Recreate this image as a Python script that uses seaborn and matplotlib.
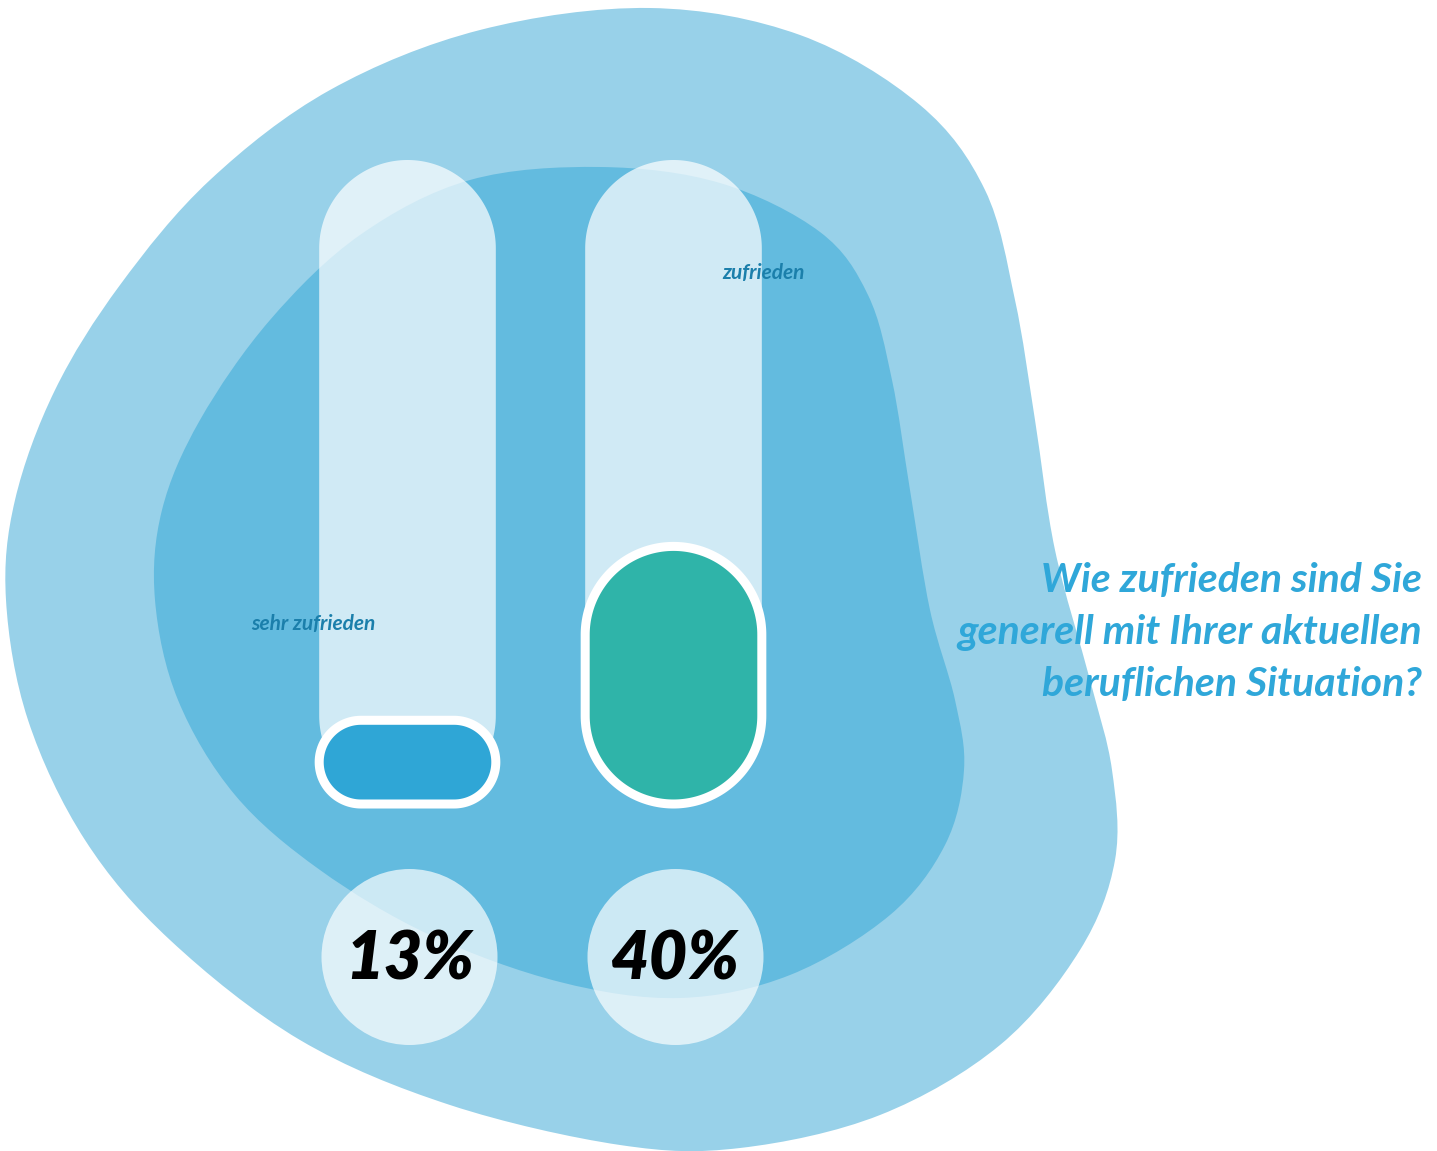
import numpy as np
import matplotlib
matplotlib.use("Agg")
import matplotlib.pyplot as plt
import matplotlib.transforms as mtransforms
import seaborn as sns
from matplotlib.path import Path
from matplotlib.patches import PathPatch, Circle

# ---- data -------------------------------------------------------------
categories = ["sehr zufrieden", "zufrieden"]
shares = [13, 40]                      # percent of respondents
share_labels = ["13%", "40%"]
track_full = [100, 100]
fill_colors = ["#2fa6d6", "#2fb4a9"]
question = "Wie zufrieden sind Sie\ngenerell mit Ihrer aktuellen\nberuflichen Situation?"

# ---- canvas -----------------------------------------------------------
W, H, DPI = 1437, 1151, 100
sns.set_theme(style="white")
plt.rcParams["font.family"] = ["Lato", "DejaVu Sans"]

fig = plt.figure(figsize=(W / DPI, H / DPI), dpi=DPI, facecolor="white")
bg = fig.add_axes([0, 0, 1, 1])
bg.set_xlim(0, W)
bg.set_ylim(H, 0)
bg.axis("off")


def smooth_closed(points):
    """Closed Catmull-Rom outline turned into cubic Bezier segments."""
    pts = np.asarray(points, float)
    n = len(pts)
    verts = [tuple(pts[0])]
    codes = [Path.MOVETO]
    for i in range(n):
        p0, p1, p2, p3 = pts[i - 1], pts[i], pts[(i + 1) % n], pts[(i + 2) % n]
        c1 = p1 + (p2 - p0) / 6.0
        c2 = p2 - (p3 - p1) / 6.0
        verts += [tuple(c1), tuple(c2), tuple(p2)]
        codes += [Path.CURVE4] * 3
    return Path(verts, codes)


outer_blob = [
    (650, 8), (480, 30), (330, 90), (210, 180), (120, 285), (55, 390),
    (15, 500), (6, 600), (28, 720), (85, 840), (170, 940), (300, 1040),
    (450, 1105), (620, 1145), (740, 1148), (880, 1115), (1000, 1045),
    (1080, 950), (1115, 860), (1112, 770), (1090, 680), (1055, 550),
    (1035, 420), (1015, 300), (985, 190), (920, 105), (800, 35),
]
inner_blob = [
    (600, 167), (470, 180), (360, 235), (270, 320), (200, 420), (162, 510),
    (155, 600), (178, 700), (235, 795), (320, 870), (430, 935), (560, 982),
    (680, 998), (790, 975), (890, 915), (945, 845), (964, 770), (955, 700),
    (930, 610), (910, 490), (892, 380), (868, 295), (820, 232), (720, 183),
]
bg.add_patch(PathPatch(smooth_closed(outer_blob), facecolor="#98d1e9", edgecolor="none"))
bg.add_patch(PathPatch(smooth_closed(inner_blob), facecolor="#63bbdf", edgecolor="none"))

bg.text(1422, 632, question, ha="right", va="center", multialignment="right",
        fontsize=29.5, fontstyle="italic", fontweight="bold", color="#2fa7d9",
        linespacing=1.5)

# ---- bar axes: 0..100 % mapped onto the tracks --------------------------
px_left, px_right = 274.5, 806.5
px_top, px_bottom = 160, 804
ax = fig.add_axes([px_left / W, 1 - px_bottom / H,
                   (px_right - px_left) / W, (px_bottom - px_top) / H])
ax.patch.set_alpha(0)

bar_w = 0.664
sns.barplot(x=categories, y=track_full, ax=ax, width=bar_w, color="white")
n_track = len(ax.patches)
sns.barplot(x=categories, y=shares, ax=ax, width=bar_w, color="white")
ax.set_xlim(-0.5, 1.5)
ax.set_ylim(0, 100)
ax.axis("off")

ident = mtransforms.IdentityTransform()


def capsule_path(x0, y0, w, h, n=60):
    """Stadium outline: semicircular ends on the shorter side."""
    r = min(w, h) / 2.0
    x1, y1 = x0 + w, y0 + h
    centers = [(x1 - r, y0 + r), (x1 - r, y1 - r), (x0 + r, y1 - r), (x0 + r, y0 + r)]
    starts = [-90, 0, 90, 180]
    pts = []
    for (cx, cy), a0 in zip(centers, starts):
        t = np.radians(np.linspace(a0, a0 + 90, n))
        pts.extend(zip(cx + r * np.cos(t), cy + r * np.sin(t)))
    pts.append(pts[0])
    codes = [Path.MOVETO] + [Path.LINETO] * (len(pts) - 2) + [Path.CLOSEPOLY]
    return Path(pts, codes)


def capsule_from(rect, **kw):
    (x0, y0), (x1, y1) = ax.transData.transform(
        [(rect.get_x(), rect.get_y()),
         (rect.get_x() + rect.get_width(), rect.get_y() + rect.get_height())])
    return PathPatch(capsule_path(x0, y0, x1 - x0, y1 - y0),
                     transform=ident, clip_on=False, **kw)


bars = list(ax.patches)
for rect in bars:
    rect.set_visible(False)

for rect in bars[:n_track]:
    ax.add_patch(capsule_from(rect, facecolor="white", alpha=0.7,
                              edgecolor="none", zorder=3))
for rect, col in zip(bars[n_track:], fill_colors):
    ax.add_patch(capsule_from(rect, facecolor=col, edgecolor="white",
                              linewidth=6.5, zorder=4))

# percentage badges below the tracks
for i, lab in enumerate(share_labels):
    cx, _ = ax.transData.transform((i, 0))
    cx += 2
    cy = H - 957
    ax.add_patch(Circle((cx, cy), 88, transform=ident, facecolor="white",
                        alpha=0.68, edgecolor="none", clip_on=False, zorder=3))
    ax.text(cx, cy - 2, lab, transform=ident, ha="center", va="center",
            fontsize=48, fontstyle="italic", fontweight="heavy", color="black",
            zorder=5, clip_on=False)

# category labels
label_pos = [(-0.355, 28), (0.34, 82.5)]
for (dx, yv), name in zip(label_pos, categories):
    i = categories.index(name)
    ax.text(i + dx, yv, name, ha="center", va="center", fontsize=15,
            fontstyle="italic", fontweight="bold", color="#1b7fab", zorder=6)

fig.savefig("out.png", dpi=DPI, facecolor="white")
